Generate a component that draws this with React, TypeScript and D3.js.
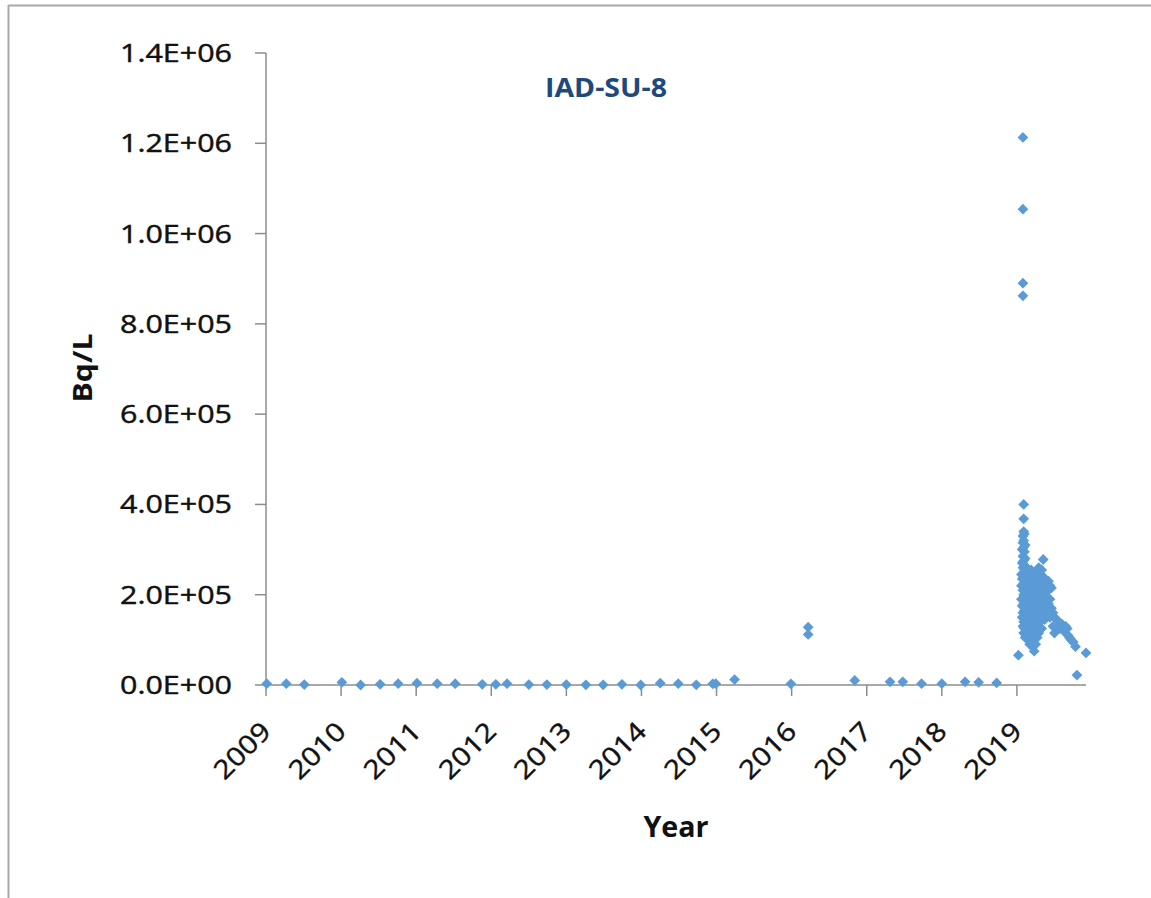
import React from "react";
import * as d3 from "d3";

// ---- Data ----
const chartTitle = "IAD-SU-8";
const xLabel = "Year";
const yLabel = "Bq/L";
const yearTicks = [2009, 2010, 2011, 2012, 2013, 2014, 2015, 2016, 2017, 2018, 2019];
const yTicks = [0, 2e5, 4e5, 6e5, 8e5, 1e6, 1.2e6, 1.4e6];

// [decimal year, Bq/L] — monitoring 2009–2018
const samplesEarly: [number, number][] = [
  [2009.01, 3000], [2009.27, 3000], [2009.51, 1000], [2010.01, 6000], [2010.26, 0],
  [2010.52, 1500], [2010.76, 3000], [2011.01, 4000], [2011.28, 3000], [2011.52, 3000],
  [2011.88, 1500], [2012.06, 1500], [2012.21, 3000], [2012.5, 1000], [2012.74, 1000],
  [2013.0, 1000], [2013.26, 500], [2013.49, 500], [2013.74, 1500], [2013.99, 0],
  [2014.25, 4000], [2014.49, 3000], [2014.73, 500], [2014.95, 2500], [2014.99, 3000],
  [2015.24, 12000], [2015.99, 2500], [2016.22, 128000], [2016.22, 112000], [2016.84, 10000],
  [2017.31, 7000], [2017.48, 7000], [2017.73, 3000], [2018.0, 3000], [2018.31, 7000],
  [2018.49, 6000], [2018.73, 4500],
];

// [decimal year, Bq/L] — 2019 sampling campaign
const samples2019: [number, number][] = [
  [2019.02, 66000],
  [2019.08, 1213000], [2019.08, 1054000], [2019.08, 890000], [2019.08, 862000],
  [2019.09, 400000], [2019.09, 368000],
  [2019.06, 245000], [2019.06, 220000], [2019.06, 190000],
  [2019.07, 300000], [2019.07, 270000], [2019.07, 235000], [2019.07, 175000], [2019.07, 150000],
  [2019.08, 330000], [2019.08, 315000], [2019.08, 285000], [2019.08, 260000], [2019.08, 210000], [2019.08, 160000], [2019.08, 130000],
  [2019.09, 340000], [2019.09, 320000], [2019.09, 305000], [2019.09, 275000], [2019.09, 250000], [2019.09, 225000], [2019.09, 200000], [2019.09, 180000], [2019.09, 140000], [2019.09, 115000],
  [2019.1, 335000], [2019.1, 295000], [2019.1, 265000], [2019.1, 240000], [2019.1, 215000], [2019.1, 190000], [2019.1, 165000], [2019.1, 125000],
  [2019.11, 310000], [2019.11, 280000], [2019.11, 255000], [2019.11, 230000], [2019.11, 205000], [2019.11, 170000], [2019.11, 145000], [2019.11, 105000],
  [2019.13, 260000], [2019.13, 235000], [2019.13, 210000], [2019.13, 185000], [2019.13, 160000], [2019.13, 135000], [2019.13, 110000],
  [2019.15, 250000], [2019.15, 225000], [2019.15, 200000], [2019.15, 175000], [2019.15, 150000], [2019.15, 125000], [2019.15, 100000],
  [2019.17, 240000], [2019.17, 215000], [2019.17, 190000], [2019.17, 165000], [2019.17, 140000], [2019.17, 115000], [2019.17, 90000],
  [2019.19, 255000], [2019.19, 230000], [2019.19, 205000], [2019.19, 180000], [2019.19, 155000], [2019.19, 130000], [2019.19, 105000],
  [2019.21, 245000], [2019.21, 220000], [2019.21, 195000], [2019.21, 170000], [2019.21, 145000], [2019.21, 120000], [2019.21, 85000],
  [2019.23, 235000], [2019.23, 210000], [2019.23, 185000], [2019.23, 160000], [2019.23, 135000], [2019.23, 100000], [2019.23, 75000],
  [2019.25, 250000], [2019.25, 225000], [2019.25, 200000], [2019.25, 175000], [2019.25, 150000], [2019.25, 120000], [2019.25, 90000],
  [2019.27, 240000], [2019.27, 215000], [2019.27, 190000], [2019.27, 160000], [2019.27, 130000], [2019.27, 105000],
  [2019.29, 260000], [2019.29, 230000], [2019.29, 205000], [2019.29, 180000], [2019.29, 150000], [2019.29, 115000],
  [2019.31, 245000], [2019.31, 220000], [2019.31, 195000], [2019.31, 170000], [2019.31, 140000],
  [2019.33, 255000], [2019.33, 230000], [2019.33, 200000], [2019.33, 175000], [2019.33, 150000], [2019.33, 125000],
  [2019.35, 278000], [2019.35, 240000], [2019.35, 210000], [2019.35, 185000], [2019.35, 160000],
  [2019.37, 230000], [2019.37, 200000], [2019.37, 170000], [2019.37, 145000],
  [2019.39, 225000], [2019.39, 195000], [2019.39, 160000],
  [2019.42, 230000], [2019.42, 210000], [2019.42, 180000],
  [2019.44, 220000], [2019.44, 190000], [2019.44, 150000],
  [2019.46, 215000], [2019.46, 170000],
  [2019.48, 160000], [2019.48, 130000],
  [2019.5, 150000], [2019.5, 115000],
  [2019.53, 145000], [2019.55, 130000], [2019.57, 125000], [2019.6, 135000], [2019.62, 120000],
  [2019.65, 130000], [2019.67, 125000], [2019.68, 110000], [2019.7, 105000], [2019.72, 100000],
  [2019.75, 95000], [2019.78, 85000], [2019.8, 22000], [2019.92, 71000],
];

const W = 1151;
const H = 898;
const FONT = "'Open Sans', 'Liberation Sans', sans-serif";
const AXIS = "#8c8c8c";
const MARK = "#5B9BD5";
const INK = "#111";

const x = d3.scaleLinear().domain([2009, 2019.92]).range([266, 1086]);
const y = d3.scaleLinear().domain([0, 1.4e6]).range([685, 53]);

const fmtY = (v: number) => {
  const [m, e] = v.toExponential(1).split("e");
  const ei = parseInt(e, 10);
  const sign = ei < 0 ? "-" : "+";
  return `${m}E${sign}${String(Math.abs(ei)).padStart(2, "0")}`;
};

const diamond = d3.symbol().type(d3.symbolSquare).size(58)() as string;

export default function App() {
  const all = [...samplesEarly, ...samples2019];
  const [x0, x1] = x.range();
  const [yb, yt] = y.range();
  return (
    <svg
      width={W}
      height={H}
      style={{ position: "absolute", left: 0, top: 0, background: "#fff" }}
      fontFamily={FONT}
    >
      <rect x={0} y={0} width={W} height={H} fill="#fff" />
      {/* outer frame (only top and left edges visible) */}
      <line x1={8.5} x2={8.5} y1={5} y2={H} stroke="#a8a8a8" strokeWidth={2} />
      <line x1={8} x2={W} y1={5.5} y2={5.5} stroke="#a8a8a8" strokeWidth={2} />

      {/* Y axis */}
      <line x1={x0} x2={x0} y1={yt} y2={yb} stroke={AXIS} strokeWidth={1.5} />
      {yTicks.map((t) => (
        <g key={"yt" + t}>
          <line x1={x0 - 11} x2={x0} y1={y(t)} y2={y(t)} stroke={AXIS} strokeWidth={1.5} />
          <text
            x={232}
            y={y(t) + 9}
            textAnchor="end"
            fontSize={25.5}
            fill={INK}
            stroke={INK}
            strokeWidth={0.45}
            textLength={112}
            lengthAdjust="spacingAndGlyphs"
          >
            {fmtY(t)}
          </text>
        </g>
      ))}

      {/* X axis */}
      <line x1={x0} x2={x1} y1={yb} y2={yb} stroke={AXIS} strokeWidth={1.5} />
      {yearTicks.map((t) => (
        <g key={"xt" + t}>
          <line x1={x(t)} x2={x(t)} y1={yb} y2={yb + 11} stroke={AXIS} strokeWidth={1.5} />
          <text
            transform={`translate(${x(t) + 6.5},${733}) rotate(-45)`}
            textAnchor="end"
            fontSize={26}
            fill={INK}
            stroke={INK}
            strokeWidth={0.45}
            textLength={68}
            lengthAdjust="spacingAndGlyphs"
          >
            {t}
          </text>
        </g>
      ))}

      {/* points */}
      {all.map(([yr, v], i) => (
        <path
          key={i}
          d={diamond}
          transform={`translate(${x(yr)},${y(v)}) rotate(45)`}
          fill={MARK}
        />
      ))}

      {/* title */}
      <text
        x={606}
        y={97}
        textAnchor="middle"
        fontSize={27}
        fontWeight="bold"
        fill="#1F497D"
        textLength={122}
        lengthAdjust="spacingAndGlyphs"
      >
        {chartTitle}
      </text>

      {/* axis titles */}
      <text
        x={676}
        y={837}
        textAnchor="middle"
        fontSize={29}
        fontWeight="bold"
        fill={INK}
        textLength={65}
        lengthAdjust="spacingAndGlyphs"
      >
        {xLabel}
      </text>
      <text
        transform={`translate(92,368) rotate(-90)`}
        textAnchor="middle"
        fontSize={26}
        fontWeight="bold"
        fill={INK}
        textLength={69}
        lengthAdjust="spacingAndGlyphs"
      >
        {yLabel}
      </text>
    </svg>
  );
}
